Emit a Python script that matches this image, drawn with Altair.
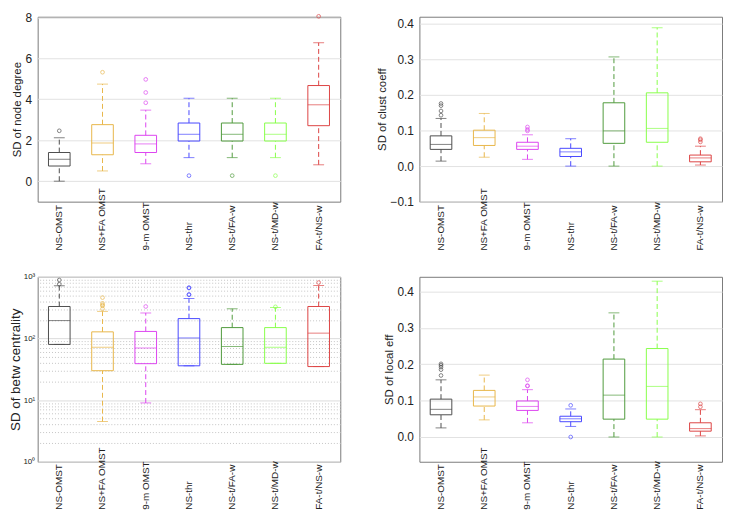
import altair as alt
import pandas as pd

cats = ["NS-OMST", "NS+FA OMST", "9-m OMST", "NS-thr", "NS-t/FA-w", "NS-t/MD-w", "FA-t/NS-w"]
colors = ["#4d4d4d", "#e8b64a", "#dd44f0", "#4848ff", "#4f9a3c", "#88ff4a", "#dd4444"]

# SD of node degree
deg_low = [0.00, 0.50, 0.85, 1.15, 1.15, 1.15, 0.80]
deg_q1 = [0.74, 1.29, 1.40, 1.96, 1.96, 1.96, 2.71]
deg_med = [1.07, 1.87, 1.82, 2.29, 2.29, 2.29, 3.73]
deg_q3 = [1.40, 2.76, 2.24, 2.84, 2.84, 2.84, 4.67]
deg_high = [2.12, 4.74, 3.47, 4.05, 4.05, 4.05, 6.76]
deg_out = [[2.46], [5.32], [3.83, 4.33, 4.97], [0.27], [0.27], [0.27], [8.05]]

# SD of clust coeff
clu_low = [0.014, 0.025, 0.019, 0.000, 0.000, 0.000, 0.003]
clu_q1 = [0.047, 0.058, 0.047, 0.027, 0.064, 0.067, 0.012]
clu_med = [0.061, 0.080, 0.056, 0.040, 0.099, 0.106, 0.023]
clu_q3 = [0.085, 0.101, 0.067, 0.050, 0.178, 0.206, 0.031]
clu_high = [0.134, 0.148, 0.088, 0.077, 0.307, 0.389, 0.056]
clu_out = [[0.143, 0.155, 0.170, 0.176], [], [0.099, 0.103, 0.110], [], [], [], [0.068, 0.074, 0.077]]

# SD of betw centrality
btw_low = [80, 4.5, 9, 36, 38, 39.5, 35]
btw_q1 = [80, 30, 39, 36, 38, 39.5, 35]
btw_med = [195, 72, 70, 102, 74, 72, 122]
btw_q3 = [330, 128, 130, 210, 150, 150, 330]
btw_high = [716, 275, 259, 445, 303, 318, 724]
btw_out = [[760, 887], [303, 338, 350, 371, 460], [330], [510, 518, 659, 667], [], [326], [807]]

# SD of local eff
eff_low = [0.025, 0.047, 0.039, 0.029, 0.000, 0.000, 0.003]
eff_q1 = [0.061, 0.085, 0.073, 0.042, 0.049, 0.049, 0.016]
eff_med = [0.076, 0.110, 0.084, 0.050, 0.115, 0.139, 0.023]
eff_q3 = [0.104, 0.128, 0.099, 0.057, 0.214, 0.243, 0.039]
eff_high = [0.157, 0.170, 0.130, 0.077, 0.341, 0.428, 0.075]
eff_out = [[0.169, 0.185, 0.192, 0.197, 0.201], [], [0.140, 0.141, 0.157], [0.000, 0.087], [], [], [0.083, 0.091]]

W, H = 306, 187
FONT = "Liberation Sans"


def panel(low, q1, med, q3, high, out, title, domain, ticks, log=False, title_size=11.5, xpad=49):
    box = pd.DataFrame({"cat": cats, "low": low, "q1": q1, "med": med, "q3": q3, "high": high})
    outl = pd.DataFrame([{"cat": c, "v": v} for c, vs in zip(cats, out) for v in vs])
    if log:
        scale = alt.Scale(type="log", domain=domain, nice=False)
        axis = alt.Axis(values=ticks, title=title, titleFontSize=title_size, titleFontWeight="normal",
                        labelFontSize=8, grid=True, gridColor="#dcdcdc", domain=False, ticks=False,
                        labelPadding=3, titlePadding=0, labelColor="#222", titleColor="#222", orient="left",
                        labelExpr="datum.value == 1 ? '10⁰' : datum.value == 10 ? '10¹' : datum.value == 100 ? '10²' : '10³'")
    else:
        scale = alt.Scale(domain=domain, nice=False, zero=False)
        axis = alt.Axis(values=ticks, title=title, titleFontSize=title_size, titleFontWeight="normal",
                        labelFontSize=12, grid=True, gridColor="#e2e2e2", domain=False, ticks=False,
                        labelPadding=6, titlePadding=3, labelColor="#222", titleColor="#222", orient="left")
    x = alt.X("cat:N", sort=cats, scale=alt.Scale(paddingInner=0, paddingOuter=0),
              axis=alt.Axis(title=None, labelAngle=270, labelAlign="left", labelBaseline="middle",
                            labelPadding=xpad, ticks=False, domain=False, labelFontSize=10,
                            labelOverlap=False, labelColor="#222", labelFont=FONT))
    col = alt.Color("cat:N", sort=cats, scale=alt.Scale(domain=cats, range=colors), legend=None)
    b = alt.Chart(box)
    up = b.mark_rule(strokeDash=[5, 3], strokeWidth=1).encode(x=x, y=alt.Y("q3:Q", scale=scale, axis=axis), y2="high:Q", color=col)
    dn = b.mark_rule(strokeDash=[5, 3], strokeWidth=1).encode(x=x, y=alt.Y("low:Q", scale=scale, axis=axis), y2="q1:Q", color=col)
    caph = b.mark_tick(size=11, thickness=1).encode(x=x, y=alt.Y("high:Q", scale=scale, axis=axis), color=col)
    capl = b.mark_tick(size=11, thickness=1).encode(x=x, y=alt.Y("low:Q", scale=scale, axis=axis), color=col)
    rect = b.mark_bar(filled=False, strokeWidth=1, width=alt.RelativeBandSize(0.5)).encode(
        x=x, y=alt.Y("q1:Q", scale=scale, axis=axis), y2="q3:Q", color=col)
    medt = b.mark_tick(size=22, thickness=1).encode(x=x, y=alt.Y("med:Q", scale=scale, axis=axis), color=col)
    pts = alt.Chart(outl).mark_point(shape="circle", filled=False, size=14, strokeWidth=1).encode(
        x=x, y=alt.Y("v:Q", scale=scale, axis=axis), color=col)
    inner = alt.layer(up, dn, caph, capl, rect, medt, pts)
    if log:
        minor = [m * d for d in [1, 10, 100] for m in range(2, 10)]
        minor_axis = alt.Axis(values=minor, orient="right", labels=False, ticks=False, domain=False,
                              grid=True, gridDash=[1, 2], gridColor="#c4c4c4", title=None)
        gl = b.mark_rule(opacity=0).encode(x=x, y=alt.Y("q1:Q", scale=scale, axis=minor_axis))
        return alt.layer(gl, inner).resolve_axis(y="independent").properties(width=W, height=H)
    return inner.properties(width=W, height=H)


p1 = panel(deg_low, deg_q1, deg_med, deg_q3, deg_high, deg_out, "SD of node degree", [-1, 8.03], [0, 2, 4, 6, 8])
p2 = panel(clu_low, clu_q1, clu_med, clu_q3, clu_high, clu_out, "SD of clust coeff", [-0.1, 0.42], [-0.1, 0, 0.1, 0.2, 0.3, 0.4])
p3 = panel(btw_low, btw_q1, btw_med, btw_q3, btw_high, btw_out, "SD of betw centrality", [1, 1000], [1, 10, 100, 1000], log=True, title_size=13.5, xpad=48)
p4 = panel(eff_low, eff_q1, eff_med, eff_q3, eff_high, eff_out, "SD of local eff", [-0.068, 0.44], [0, 0.1, 0.2, 0.3, 0.4], xpad=48)

chart = alt.concat(p1, p2, p3, p4, columns=2, spacing={"row": 76, "column": 80}, bounds="flush").configure(
    font=FONT, padding=0
).configure_view(stroke="#7a7a7a", strokeWidth=1)

chart.save("out.html", embed_options={"renderer": "svg", "actions": False})
